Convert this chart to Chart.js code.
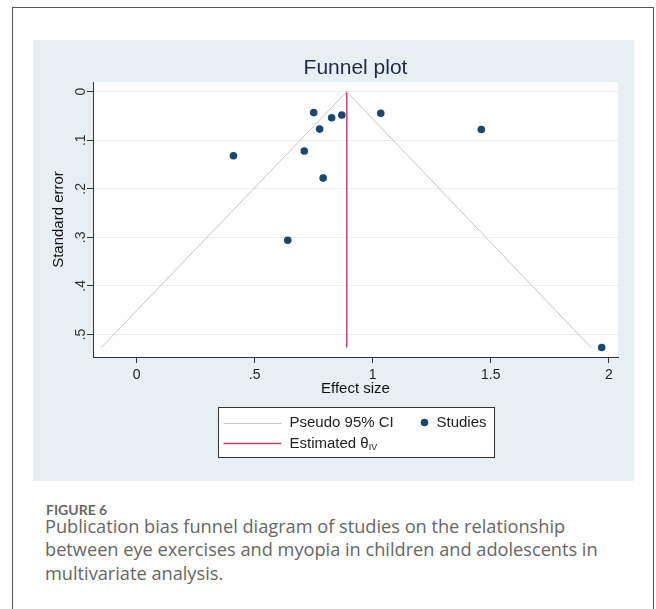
<!DOCTYPE html>
<html>
<head>
<meta charset="utf-8">
<script src="https://cdn.jsdelivr.net/npm/chart.js@4"></script>
<style>
  body { margin: 0; background: #fff; width: 656px; height: 609px; overflow: hidden; position: relative; }
  .card { position: absolute; left: 12px; top: 7px; width: 640px; height: 700px; border: 1px solid #555; }
  .panel { position: absolute; left: 33px; top: 40px; width: 601px; height: 441px; background: #e8eff2; }
  .fig-label { position: absolute; left: 46px; top: 501px; font: 700 14px/17px Lato, "Open Sans", sans-serif; color: #666; }
  .caption { position: absolute; left: 45px; top: 514.5px; font: 400 18.2px/23.5px "Open Sans", Lato, sans-serif; color: #666; white-space: nowrap; }
</style>
</head>
<body>
<div class="card"></div>
<div class="panel"><canvas id="funnelChart"></canvas></div>
<div class="fig-label">FIGURE 6</div>
<div class="caption">Publication bias funnel diagram of studies on the relationship<br>between eye exercises and myopia in children and adolescents in<br>multivariate analysis.</div>

<script>
// studies (effect size, standard error)
const studyEffect = [0.75, 0.775, 0.71, 0.41, 0.79, 0.64, 0.826, 0.869, 1.034, 1.46, 1.97];
const studySE = [0.043, 0.077, 0.122, 0.132, 0.178, 0.306, 0.0535, 0.048, 0.0445, 0.078, 0.527];

// pseudo 95% CI funnel and estimated effect line
const ciEffect = [-0.15, 0.89, 1.925];
const ciSE = [0.527, 0, 0.527];
const thetaEffect = [0.89, 0.89];
const thetaSE = [0, 0.527];

// axis ticks
const xTickValues = [0, 0.5, 1, 1.5, 2];
const xTickLabels = ['0', '.5', '1', '1.5', '2'];
const yTickValues = [0, 0.1, 0.2, 0.3, 0.4, 0.5];
const yTickLabels = ['0', '.1', '.2', '.3', '.4', '.5'];

const toPoints = (xs, ys) => xs.map((x, i) => ({ x: x, y: ys[i] }));

Chart.defaults.font.family = '"Liberation Sans", Arial, sans-serif';
Chart.defaults.animation = false;

// white plot region
const plotBackground = {
    id: 'plotBackground',
    beforeDraw(chart) {
        const { ctx, chartArea: a } = chart;
        ctx.save();
        ctx.fillStyle = '#ffffff';
        ctx.fillRect(a.left, a.top, a.right - a.left, a.bottom - a.top);
        ctx.restore();
    }
};

// boxed legend under the x axis title, laid out like the Stata one
const boxLegend = {
    id: 'boxLegend',
    afterDraw(chart) {
        const { ctx, chartArea: a } = chart;
        const ds = chart.data.datasets;
        const w = 276, h = 50;
        const left = Math.round((a.left + a.right) / 2 - w / 2) + 0.5;
        const top = Math.round(chart.scales.x.bottom) + 0.5;
        ctx.save();
        ctx.fillStyle = '#ffffff';
        ctx.fillRect(left, top, w, h);
        ctx.strokeStyle = '#333';
        ctx.lineWidth = 1;
        ctx.strokeRect(left, top, w, h);

        const row1 = top + 15, row2 = top + 36;
        ctx.font = '15px "Liberation Sans", Arial, sans-serif';
        ctx.textBaseline = 'middle';
        ctx.textAlign = 'left';

        // Pseudo 95% CI
        ctx.strokeStyle = ds[1].borderColor;
        ctx.lineWidth = 1;
        ctx.beginPath();
        ctx.moveTo(left + 5, Math.round(row1) + 0.5);
        ctx.lineTo(left + 63, Math.round(row1) + 0.5);
        ctx.stroke();
        ctx.fillStyle = '#222';
        ctx.fillText(ds[1].label, left + 71, row1);

        // Studies
        ctx.fillStyle = ds[0].backgroundColor;
        ctx.beginPath();
        ctx.arc(left + 206, row1, 3.8, 0, Math.PI * 2);
        ctx.fill();
        ctx.fillStyle = '#222';
        ctx.fillText(ds[0].label, left + 218, row1);

        // Estimated theta
        ctx.strokeStyle = ds[2].borderColor;
        ctx.lineWidth = 1.5;
        ctx.beginPath();
        ctx.moveTo(left + 5, row2);
        ctx.lineTo(left + 63, row2);
        ctx.stroke();
        ctx.fillStyle = '#222';
        ctx.fillText(ds[2].label, left + 71, row2);
        const tw = ctx.measureText(ds[2].label).width;
        ctx.font = '9px "Liberation Sans", Arial, sans-serif';
        ctx.fillText('IV', left + 71 + tw, row2 + 4);
        ctx.restore();
    }
};

const ctx = document.getElementById('funnelChart').getContext('2d');
const funnelChart = new Chart(ctx, {
    type: 'scatter',
    data: {
        datasets: [
            {
                label: 'Studies',
                data: toPoints(studyEffect, studySE),
                backgroundColor: '#1a476f',
                borderWidth: 0,
                pointRadius: 3.8,
                pointHoverRadius: 3.8
            },
            {
                label: 'Pseudo 95% CI',
                type: 'line',
                data: toPoints(ciEffect, ciSE),
                borderColor: '#c8c8c8',
                borderWidth: 1,
                pointRadius: 0,
                fill: false,
                tension: 0
            },
            {
                label: 'Estimated θ',
                type: 'line',
                data: toPoints(thetaEffect, thetaSE),
                borderColor: '#c4466a',
                borderWidth: 1.5,
                pointRadius: 0,
                fill: false,
                tension: 0
            }
        ]
    },
    options: {
        responsive: true,
        maintainAspectRatio: false,
        layout: { padding: { left: 0, right: 16, top: 0, bottom: 74 } },
        plugins: {
            legend: { display: false },
            tooltip: { enabled: false },
            title: {
                display: true,
                text: 'Funnel plot',
                fullSize: false,
                color: '#1c2a48',
                font: { size: 21, weight: 'normal' },
                padding: { top: 15.4, bottom: 1.4 }
            }
        },
        scales: {
            x: {
                type: 'linear',
                position: 'bottom',
                min: -0.185,
                max: 2.039,
                afterBuildTicks: s => { s.ticks = xTickValues.map(v => ({ value: v })); },
                afterFit: s => { s.height = 50; },
                ticks: {
                    callback: (v, i) => xTickLabels[i],
                    color: '#222',
                    font: { size: 14 },
                    padding: 3.6,
                    maxRotation: 0
                },
                grid: { drawOnChartArea: false, tickLength: 6, tickColor: '#333', tickWidth: 1 },
                border: { color: '#333', width: 1 },
                title: {
                    display: true,
                    text: 'Effect size',
                    color: '#111',
                    font: { size: 15 },
                    padding: { top: 0, bottom: 9 }
                }
            },
            y: {
                type: 'linear',
                reverse: true,
                min: -0.02,
                max: 0.5465,
                afterBuildTicks: s => { s.ticks = yTickValues.map(v => ({ value: v })); },
                afterFit: s => { s.width = 60; },
                ticks: {
                    callback: (v, i) => yTickLabels[i],
                    color: '#333',
                    font: { size: 14 },
                    minRotation: 90,
                    maxRotation: 90,
                    crossAlign: 'center',
                    padding: 0
                },
                grid: { color: '#e8eef1', tickLength: 6, tickColor: '#333', tickWidth: 1 },
                border: { color: '#333', width: 1 },
                title: {
                    display: true,
                    text: 'Standard error',
                    color: '#111',
                    font: { size: 15 },
                    padding: { top: 16.5, bottom: 0 }
                }
            }
        }
    },
    plugins: [plotBackground, boxLegend]
});
</script>
</body>
</html>
